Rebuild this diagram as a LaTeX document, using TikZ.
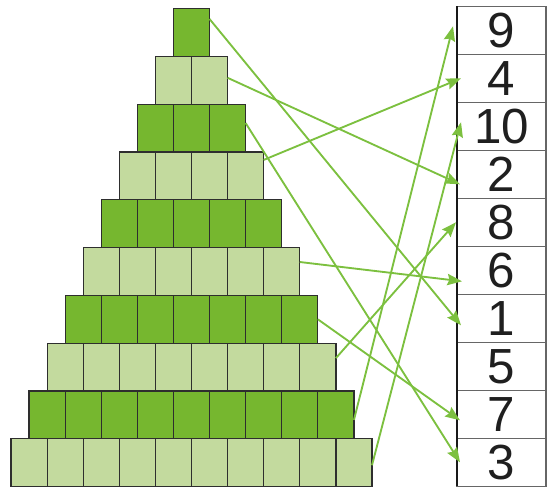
\documentclass[tikz,border=0pt]{standalone}
\usepackage{fontspec}
\setmainfont{Liberation Sans}
\usetikzlibrary{arrows.meta,calc}
\definecolor{dkg}{HTML}{76B72F}
\definecolor{ltg}{HTML}{C3DA9E}
\definecolor{arr}{HTML}{7CC03F}
\definecolor{edge}{HTML}{2E2E2E}
\begin{document}
\begin{tikzpicture}[x=0.75pt,y=-0.75pt,
  sq/.style={draw=edge, line width=0.9pt, minimum width=27.075pt, minimum height=35.85pt, inner sep=0pt, outer sep=0pt, anchor=north west},
  numbox/.style={draw=black!60, line width=1pt, minimum width=66.75pt, minimum height=36pt, inner sep=0pt, outer sep=0pt, anchor=north west, font=\fontsize{37}{37}\selectfont, text=black!88, text height=26.5pt, text depth=0pt},
  link/.style={draw=arr, line width=1.4pt, -{Stealth[length=11pt,width=8.5pt,inset=1.5pt]}}]
\useasboundingbox (0,0) rectangle (549,487);
% pyramid
\foreach \k/\c in {1/dkg,2/ltg,3/dkg,4/ltg,5/dkg,6/ltg,7/dkg,8/ltg,9/dkg,10/ltg}{
  \foreach \j in {1,...,\k}{
    \node[sq, fill=\c] (s\k-\j) at ({191.5-\k*18.05+(\j-1)*36.1}, {8.5+(\k-1)*47.8}) {};
  }
}
% number boxes
\foreach \n [count=\i] in {9,4,10,2,8,6,1,5,7,3}{
  \node[numbox] (b\n) at (457, {6.3+(\i-1)*48}) {\n};
}
\draw[black!90, line width=1pt] (b9.north west) -- (b3.south west);
% start points
\coordinate (p1) at ($(s1-1.north east)+(0,10.5)$);
\coordinate (p2) at ($(s2-2.north east)+(0,21.5)$);
\coordinate (p3) at ($(s3-3.north east)+(0,19)$);
\coordinate (p4) at ($(s4-4.north east)+(0,8)$);
\coordinate (p6) at ($(s6-6.north east)+(0,14.5)$);
\coordinate (p7) at ($(s7-7.north east)+(0,24)$);
\coordinate (p8) at ($(s8-8.north east)+(0,15)$);
\coordinate (p9) at ($(s9-9.north east)+(0,29)$);
\coordinate (p10) at ($(s10-10.north east)+(0,26.5)$);
% end points
\coordinate (q9) at ($(b9.west)+(-4,-4)$);
\coordinate (q4) at ($(b4.west)+(4,0)$);
\coordinate (q10) at ($(b10.west)+(4,-4)$);
\coordinate (q2) at ($(b2.west)+(3,10)$);
\coordinate (q8) at ($(b8.west)+(-1,0)$);
\coordinate (q6) at ($(b6.west)+(5,11)$);
\coordinate (q1) at ($(b1.west)+(4,7)$);
\coordinate (q7) at ($(b7.west)+(3,6)$);
\coordinate (q3) at ($(b3.west)+(3,0)$);
% arrows
\foreach \r in {1,2,3,4,6,7,8,9,10}{
  \draw[link] (p\r) -- (q\r);
}
\end{tikzpicture}
\end{document}
